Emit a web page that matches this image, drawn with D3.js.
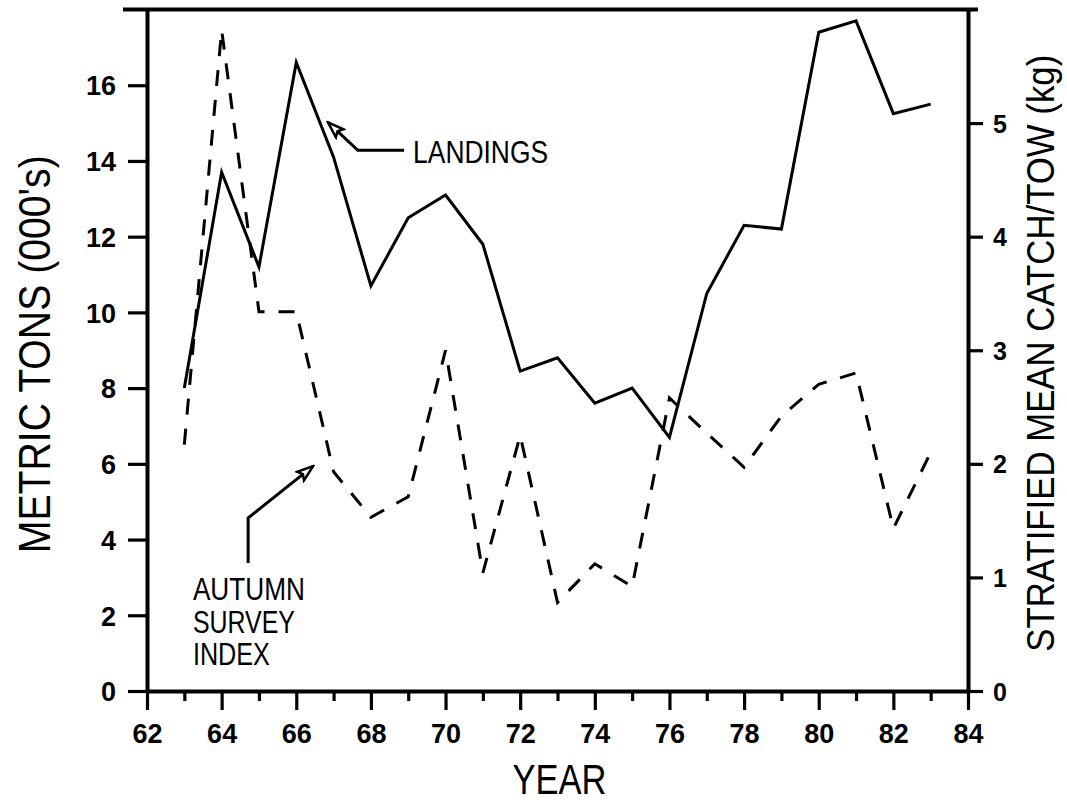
<!DOCTYPE html>
<html><head><meta charset="utf-8">
<script src="https://cdn.jsdelivr.net/npm/d3@7"></script>
<style>body{margin:0;background:#fff} svg{display:block}</style>
</head><body>
<svg id="c" width="1067" height="805"></svg>
<script>
// ---- data ----
const years = [63,64,65,66,67,68,69,70,71,72,73,74,75,76,77,78,79,80,81,82,83];
const landings = [8.0,13.7,11.2,16.6,14.1,10.7,12.5,13.1,11.8,8.45,8.8,7.6,8.0,6.7,10.5,12.3,12.2,17.4,17.7,15.25,15.5];
const surveyIndex = [2.17,5.82,3.34,3.34,1.93,1.53,1.71,3.0,1.04,2.25,0.78,1.12,0.92,2.58,2.27,1.97,2.42,2.7,2.8,1.43,2.1];
const xTicks = [62,63,64,65,66,67,68,69,70,71,72,73,74,75,76,77,78,79,80,81,82,83,84];
const xTickLabels = ["62","","64","","66","","68","","70","","72","","74","","76","","78","","80","","82","","84"];
const leftTicks = [0,2,4,6,8,10,12,14,16];
const rightTicks = [0,1,2,3,4,5];
const leftTitle = "METRIC TONS (000's)";
const rightTitle = "STRATIFIED MEAN CATCH/TOW (kg)";
const xTitle = "YEAR";
const landingsLabel = "LANDINGS";
const surveyLabel = ["AUTUMN","SURVEY","INDEX"];

// ---- scales ----
const svg = d3.select("#c");
const x = d3.scaleLinear().domain([62,84]).range([147,968]);
const yL = d3.scaleLinear().domain([0,18]).range([691,9.5]);
const yR = d3.scaleLinear().domain([0,6]).range([691,9.5]);
const FONT = "'Liberation Sans', Arial, Helvetica, sans-serif";

svg.append("rect").attr("width",1067).attr("height",805).attr("fill","#fff");

// ---- marker (open arrowhead) ----
const defs = svg.append("defs");
defs.append("marker").attr("id","arr").attr("viewBox","0 0 20 14")
  .attr("refX",18).attr("refY",7).attr("markerWidth",20).attr("markerHeight",14)
  .attr("markerUnits","userSpaceOnUse").attr("orient","auto")
  .append("path").attr("d","M18,7 L2,1.5 L5,7 L2,12.5 Z")
  .attr("fill","#fff").attr("stroke","#000").attr("stroke-width",2.5).attr("stroke-linejoin","miter");

// ---- axes ----
function styleAxis(g){
  g.select(".domain").attr("stroke","#000").attr("stroke-width",4);
  g.selectAll(".tick line").attr("stroke","#000").attr("stroke-width",3.2);
  g.selectAll(".tick text").attr("fill","#000").style("font-family",FONT)
    .style("font-weight","bold");
}

const gx = svg.append("g").attr("transform",`translate(0,${yL(0)})`)
  .call(d3.axisBottom(x).tickValues(xTicks).tickSize(19).tickSizeOuter(0)
    .tickFormat((d,i)=>xTickLabels[i]));
styleAxis(gx);
gx.selectAll(".tick line").attr("y2",(d)=> d%2===0 ? 19 : 10);
gx.selectAll(".tick text").attr("y",52).attr("dy",0).style("font-size","27px");

const gl = svg.append("g").attr("transform",`translate(${x(62)},0)`)
  .call(d3.axisLeft(yL).tickValues(leftTicks).tickSize(19).tickSizeOuter(0).tickPadding(12)
    .tickFormat(d3.format("d")));
styleAxis(gl);
gl.selectAll(".tick text").style("font-size","27px").attr("dy","0.36em");

const gr = svg.append("g").attr("transform",`translate(${x(84)},0)`)
  .call(d3.axisRight(yR).tickValues(rightTicks).tickSize(15).tickSizeOuter(0).tickPadding(10)
    .tickFormat(d3.format("d")));
styleAxis(gr);
gr.selectAll(".tick text").style("font-size","25px").attr("dy","0.36em");

// top frame line
svg.append("line").attr("x1",x(62)-24).attr("x2",x(84)+10)
  .attr("y1",yL(18)).attr("y2",yL(18)).attr("stroke","#000").attr("stroke-width",4);

// ---- titles ----
svg.append("text").attr("transform",`translate(50,${(yL(0)+yL(18))/2+4}) rotate(-90)`)
  .attr("text-anchor","middle").attr("textLength",398).attr("lengthAdjust","spacingAndGlyphs")
  .style("font-family",FONT).style("font-size","44px").text(leftTitle);
svg.append("text").attr("transform",`translate(1054,${(yL(0)+yL(18))/2+3}) rotate(-90)`)
  .attr("text-anchor","middle").attr("textLength",597).attr("lengthAdjust","spacingAndGlyphs")
  .style("font-family",FONT).style("font-size","38px").text(rightTitle);
svg.append("text").attr("x",(x(62)+x(84))/2 + 2).attr("y",794)
  .attr("text-anchor","middle").attr("textLength",94).attr("lengthAdjust","spacingAndGlyphs")
  .style("font-family",FONT).style("font-size","42px").text(xTitle);

// ---- data lines ----
const solid = d3.line().x((d,i)=>x(years[i])).y(d=>yL(d));
const dashed = d3.line().x((d,i)=>x(years[i])).y(d=>yR(d));
svg.append("path").attr("d",solid(landings)).attr("fill","none")
  .attr("stroke","#000").attr("stroke-width",3).attr("stroke-linejoin","miter");
svg.append("path").attr("d",dashed(surveyIndex)).attr("fill","none")
  .attr("stroke","#000").attr("stroke-width",3).attr("stroke-dasharray","16,14");

// ---- annotations (data coordinates, left axis units) ----
const landArrow = [[68.89,14.28],[67.65,14.28],[66.85,15.02]];
const survArrow = [[64.71,3.38],[64.71,4.57],[66.45,5.94]];
const arrowLine = d3.line().x(d=>x(d[0])).y(d=>yL(d[1]));
svg.append("path").attr("d",arrowLine(landArrow)).attr("fill","none")
  .attr("stroke","#000").attr("stroke-width",3).attr("marker-end","url(#arr)");
svg.append("path").attr("d",arrowLine(survArrow)).attr("fill","none")
  .attr("stroke","#000").attr("stroke-width",3).attr("marker-end","url(#arr)");

svg.append("text").attr("x",x(69.13)).attr("y",yL(13.94))
  .attr("textLength",135).attr("lengthAdjust","spacingAndGlyphs")
  .style("font-family",FONT).style("font-size","32px").text(landingsLabel);

const survLens = [112,102,77];
const survBase = [2.40,1.53,0.69];
const st = svg.append("text").style("font-family",FONT).style("font-size","31px");
surveyLabel.forEach((t,i)=>{
  st.append("tspan").attr("x",x(63.23)).attr("y",yL(survBase[i]))
    .attr("textLength",survLens[i]).attr("lengthAdjust","spacingAndGlyphs").text(t);
});
</script>
</body></html>
